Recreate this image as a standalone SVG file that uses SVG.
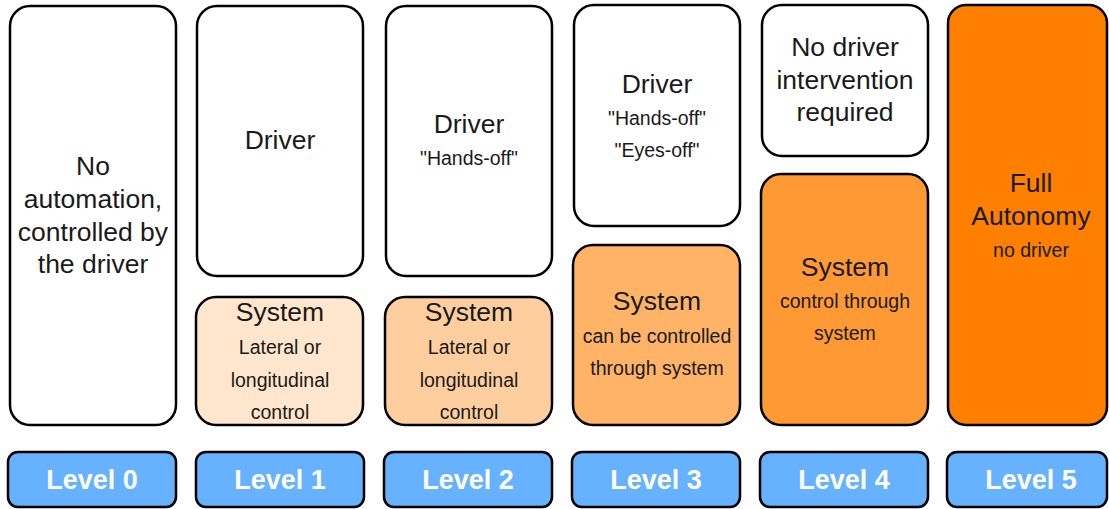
<svg xmlns="http://www.w3.org/2000/svg" width="1109" height="509" viewBox="0 0 1109 509">
  <style>
    .box { stroke: #000; stroke-width: 2.5; }
    .lvl { fill: #66b2ff; stroke: #000; stroke-width: 2.5; }
    .big { font-family: "Liberation Sans", Arial, sans-serif; font-size: 26.5px; fill: #1a1a1a; text-anchor: middle; }
    .small { font-family: "Liberation Sans", Arial, sans-serif; font-size: 19.5px; fill: #1a1a1a; text-anchor: middle; }
    .lbl { font-family: "Liberation Sans", Arial, sans-serif; font-size: 27px; font-weight: bold; fill: #fff; text-anchor: middle; }
  </style>
  <rect width="1109" height="509" fill="#fff"/>

  <!-- Level 0 -->
  <g id="level0">
    <rect class="box" x="10" y="6" width="166" height="419" rx="20" fill="#fff"/>
    <text class="big" x="93" y="175">No</text>
    <text class="big" x="93" y="208">automation,</text>
    <text class="big" x="93" y="241">controlled by</text>
    <text class="big" x="93" y="273">the driver</text>
  </g>

  <!-- Level 1 -->
  <g id="level1-driver">
    <rect class="box" x="197" y="6" width="166" height="270" rx="20" fill="#fff"/>
    <text class="big" x="280" y="149">Driver</text>
  </g>
  <g id="level1-system">
    <rect class="box" x="196" y="297" width="167" height="128" rx="20" fill="#ffe6cc"/>
    <text class="big" x="280" y="321">System</text>
    <text class="small" x="280" y="354">Lateral or</text>
    <text class="small" x="280" y="387">longitudinal</text>
    <text class="small" x="280" y="419">control</text>
  </g>

  <!-- Level 2 -->
  <g id="level2-driver">
    <rect class="box" x="386" y="6" width="166" height="270" rx="20" fill="#fff"/>
    <text class="big" x="469" y="133">Driver</text>
    <text class="small" x="469" y="165">"Hands-off"</text>
  </g>
  <g id="level2-system">
    <rect class="box" x="385" y="297" width="167" height="128" rx="20" fill="#ffce9f"/>
    <text class="big" x="469" y="321">System</text>
    <text class="small" x="469" y="354">Lateral or</text>
    <text class="small" x="469" y="387">longitudinal</text>
    <text class="small" x="469" y="419">control</text>
  </g>

  <!-- Level 3 -->
  <g id="level3-driver">
    <rect class="box" x="574" y="5" width="166" height="221" rx="20" fill="#fff"/>
    <text class="big" x="657" y="93">Driver</text>
    <text class="small" x="657" y="125">"Hands-off"</text>
    <text class="small" x="657" y="157">"Eyes-off"</text>
  </g>
  <g id="level3-system">
    <rect class="box" x="573" y="245" width="167" height="180" rx="20" fill="#ffb366"/>
    <text class="big" x="657" y="310">System</text>
    <text class="small" x="657" y="343">can be controlled</text>
    <text class="small" x="657" y="375">through system</text>
  </g>

  <!-- Level 4 -->
  <g id="level4-driver">
    <rect class="box" x="762" y="5" width="166" height="151" rx="20" fill="#fff"/>
    <text class="big" x="845" y="56">No driver</text>
    <text class="big" x="845" y="89">intervention</text>
    <text class="big" x="845" y="121">required</text>
  </g>
  <g id="level4-system">
    <rect class="box" x="761" y="174" width="167" height="251" rx="20" fill="#ff9933"/>
    <text class="big" x="845" y="276">System</text>
    <text class="small" x="845" y="308">control through</text>
    <text class="small" x="845" y="340">system</text>
  </g>

  <!-- Level 5 -->
  <g id="level5">
    <rect class="box" x="948" y="5" width="159" height="420" rx="18" fill="#ff8000"/>
    <text class="big" x="1031" y="192">Full</text>
    <text class="big" x="1031" y="225">Autonomy</text>
    <text class="small" x="1031" y="257">no driver</text>
  </g>

  <!-- Level labels -->
  <g id="label0"><rect class="lvl" x="8" y="452" width="168" height="55" rx="10"/><text class="lbl" x="92" y="489">Level 0</text></g>
  <g id="label1"><rect class="lvl" x="196" y="452" width="168" height="55" rx="10"/><text class="lbl" x="280" y="489">Level 1</text></g>
  <g id="label2"><rect class="lvl" x="384" y="452" width="168" height="55" rx="10"/><text class="lbl" x="468" y="489">Level 2</text></g>
  <g id="label3"><rect class="lvl" x="572" y="452" width="168" height="55" rx="10"/><text class="lbl" x="656" y="489">Level 3</text></g>
  <g id="label4"><rect class="lvl" x="760" y="452" width="168" height="55" rx="10"/><text class="lbl" x="844" y="489">Level 4</text></g>
  <g id="label5"><rect class="lvl" x="947" y="452" width="160" height="55" rx="10"/><text class="lbl" x="1031" y="489">Level 5</text></g>

  <g id="connectors"/>
</svg>
